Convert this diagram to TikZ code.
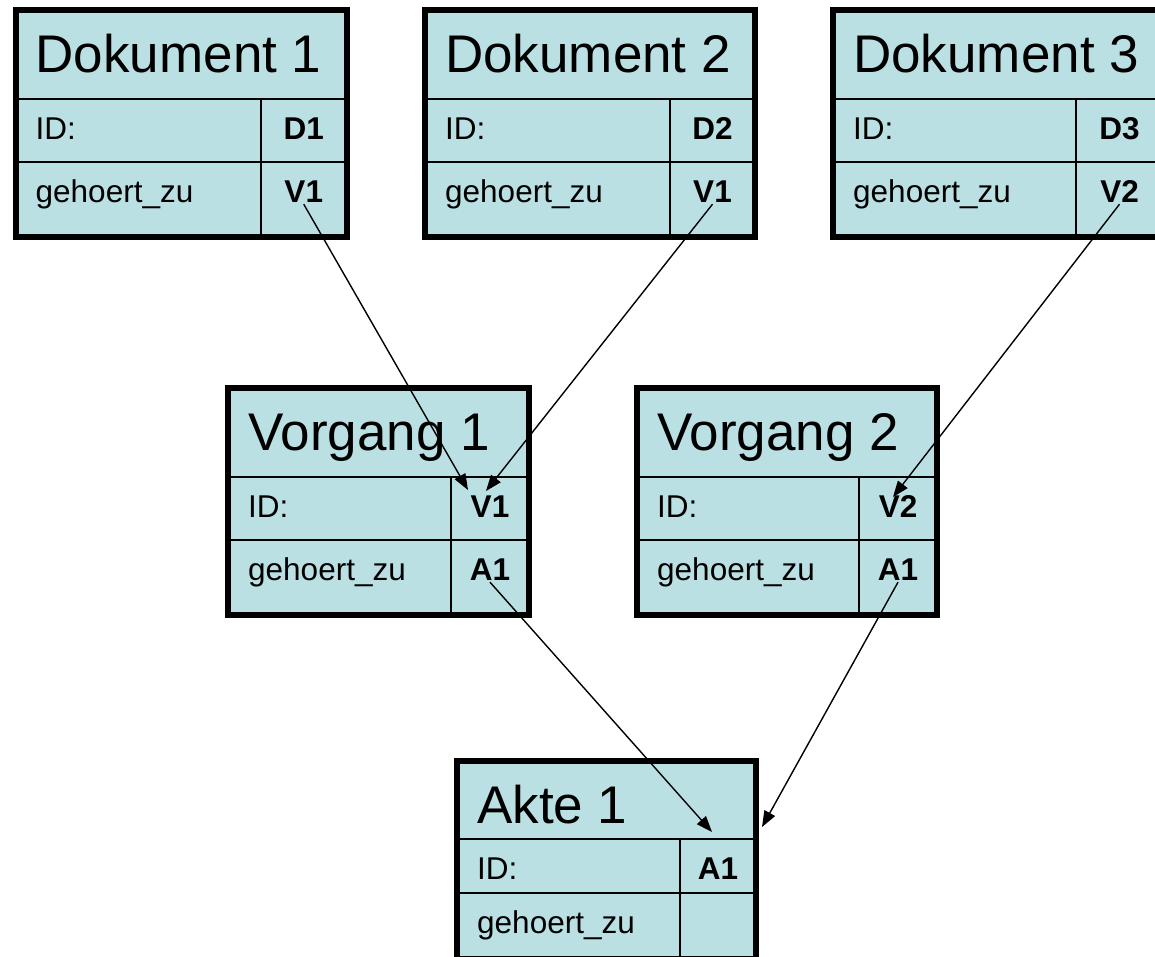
\documentclass[tikz,border=0pt]{standalone}
\usepackage{fontspec}
\setmainfont{Liberation Sans}
\usetikzlibrary{arrows.meta,calc}
\definecolor{cellblue}{RGB}{187,224,227}

\tikzset{
  cell/.style={draw=black, line width=2.5pt, fill=cellblue, anchor=north west, inner sep=0pt, outer sep=0pt},
  frame/.style={draw=black, line width=6pt},
  titletext/.style={anchor=base west, inner sep=0pt, font=\fontsize{53}{53}\selectfont},
  labeltext/.style={anchor=base west, inner sep=0pt, font=\fontsize{31.5}{32}\selectfont},
  valuetext/.style={anchor=base, inner sep=2pt, font=\fontsize{31.5}{32}\selectfont\bfseries},
  link/.style={-{Triangle[length=16pt,width=12pt]}, line width=1.4pt},
}

% row heights
\newcommand{\titleh}{89}
\newcommand{\rowa}{63}
\newcommand{\rowb}{75}

% #1 name, #2 x, #3 y, #4 width, #5 label column, #6 title, #7 id, #8 reference
\newcommand{\entity}[8]{
  \node[cell, minimum width=#4, minimum height=\titleh] (#1) at (#2,#3) {};
  \node[cell, minimum width=#5, minimum height=\rowa] (#1-idl) at (#1.south west) {};
  \node[cell, minimum width=#4-#5, minimum height=\rowa] (#1-id) at (#1-idl.north east) {};
  \node[cell, minimum width=#5, minimum height=\rowb] (#1-refl) at (#1-idl.south west) {};
  \node[cell, minimum width=#4-#5, minimum height=\rowb] (#1-ref) at (#1-refl.north east) {};
  \draw[frame] (#1.north west) rectangle (#1-ref.south east);
  \node[titletext] (#1-t) at ($(#1.north west)+(20,62)$) {#6};
  \node[labeltext] (#1-il) at ($(#1-idl.north west)+(20,40)$) {ID:};
  \node[valuetext] (#1-iv) at ($(#1-id.north)+(0,40)$) {#7};
  \node[labeltext] (#1-rl) at ($(#1-refl.north west)+(20,40)$) {gehoert\_zu};
  \node[valuetext] (#1-rv) at ($(#1-ref.north)+(0,40)$) {#8};
}

\begin{document}
\begin{tikzpicture}[x=1pt, y=-1pt]
  \useasboundingbox (0,0) rectangle (1155,956);

  % Dokumente
  \entity{d1}{15.5}{10}{331}{245.5}{Dokument 1}{D1}{V1}
  \entity{d2}{425}{10}{330}{245}{Dokument 2}{D2}{V1}
  \entity{d3}{833}{10}{330}{243}{Dokument 3}{D3}{V2}

  % Vorgaenge
  \entity{v1}{228}{388}{301}{223}{Vorgang 1}{V1}{A1}
  \entity{v2}{637}{388}{300}{222}{Vorgang 2}{V2}{A1}

  % Akte
  \renewcommand{\titleh}{78}
  \renewcommand{\rowa}{54}
  \renewcommand{\rowb}{66}
  \entity{a1}{457}{761}{299}{223}{Akte 1}{A1}{}

  % Verweise
  \coordinate (v1-in-a) at (468,490);
  \coordinate (v1-in-b) at (486,491);
  \coordinate (v2-in) at (893,497);
  \coordinate (a1-in-a) at (712,832);
  \coordinate (a1-in-b) at (762,827);

  \draw[link] (d1-rv.south) -- (v1-in-a);
  \draw[link] (d2-rv.south) -- (v1-in-b);
  \draw[link] (d3-rv.south) -- (v2-in);
  \draw[link] (v1-rv.south) -- (a1-in-a);
  \draw[link] (v2-rv.south) -- (a1-in-b);
\end{tikzpicture}
\end{document}
